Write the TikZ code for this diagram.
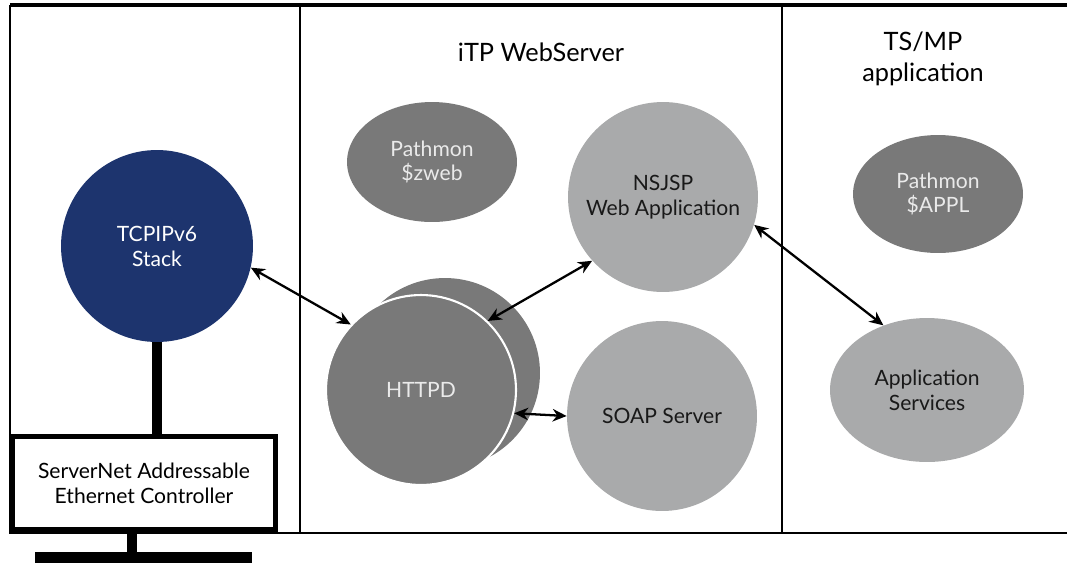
\documentclass[tikz,border=0pt]{standalone}
\usepackage{fontspec}
\setmainfont{Lato}
\usetikzlibrary{arrows.meta,shapes.geometric,positioning}

\definecolor{navy}{RGB}{29,52,110}
\definecolor{darkgrey}{RGB}{121,121,121}
\definecolor{lightgrey}{RGB}{169,170,171}
\definecolor{paletext}{RGB}{234,234,234}

\tikzset{
	bodyfont/.style={font=\fontsize{12}{14.2}\selectfont},
	darkproc/.style={circle,fill=darkgrey,text=paletext,minimum size=3.8cm,inner sep=0pt,align=center,bodyfont},
	lightproc/.style={circle,fill=lightgrey,text=black!90,minimum size=3.8cm,inner sep=0pt,align=center,bodyfont},
	monitor/.style={ellipse,fill=darkgrey,text=paletext,minimum width=3.4cm,minimum height=2.4cm,inner sep=0pt,align=center,bodyfont},
	title/.style={align=center,font=\fontsize{14.4}{18}\selectfont},
	link/.style={{Stealth[length=2.8mm,width=2.5mm]}-{Stealth[length=2.8mm,width=2.5mm]},line width=1.3pt}
}

\begin{document}
\begin{tikzpicture}[x=0.02cm,y=-0.02cm]
	\useasboundingbox (0,0) rectangle (1067,562);

	% frame and panels
	\draw[line width=1.8pt] (10,5) -- (1067,5);
	\draw[line width=1.4pt] (10,5) -- (10,533) -- (1067,533);
	\draw[line width=1.3pt] (300,5) -- (300,533);
	\draw[line width=1.3pt] (782,5) -- (782,533);

	\node[title] (webtitle) at (541,52) {iTP WebServer};
	\node[title] (tstitle) at (923,59) {TS/MP\\application};

	% network side
	\node[circle,fill=navy,text=white,minimum size=3.84cm,inner sep=0pt,align=center,bodyfont] (tcp) at (157,246) {TCPIPv6\\Stack};
	\node[draw,fill=white,line width=2.8pt,minimum width=5.26cm,minimum height=1.86cm,align=center,bodyfont] (ctrl) at (144,483) {ServerNet Addressable\\Ethernet Controller};
	\draw[line width=5.7pt] (tcp.south) -- (tcp.south |- ctrl.north);
	\coordinate (bus) at (132,553);
	\draw[line width=5.7pt] (ctrl.south -| bus) -- (bus);
	\fill (35,552) rectangle (252,570);

	% web server
	\node[monitor] (zweb) at (432,162) {Pathmon\\\$zweb};
	\node[lightproc] (nsjsp) at (663,197) {NSJSP\\Web Application};
	\node[darkproc] (httpdback) at (445,373) {};
	\node[darkproc,draw=white,line width=1.2pt] (httpd) at (421,390) {HTTPD};
	\node[lightproc] (soap) at (662,416) {SOAP Server};

	% TS/MP
	\node[monitor,minimum height=2.36cm] (appl) at (938,194) {Pathmon\\\$APPL};
	\node[ellipse,fill=lightgrey,text=black!90,minimum width=3.88cm,minimum height=2.88cm,inner sep=0pt,align=center,bodyfont] (svc) at (927,390) {Application\\Services};

	\draw[link] (tcp.-13) -- (httpd.137);
	\draw[link] (httpd.46) -- (nsjsp.222);
	\draw[link] (httpd.-14) -- (soap.west);
	\draw[link] (nsjsp.-17) -- (svc.124);
\end{tikzpicture}
\end{document}
